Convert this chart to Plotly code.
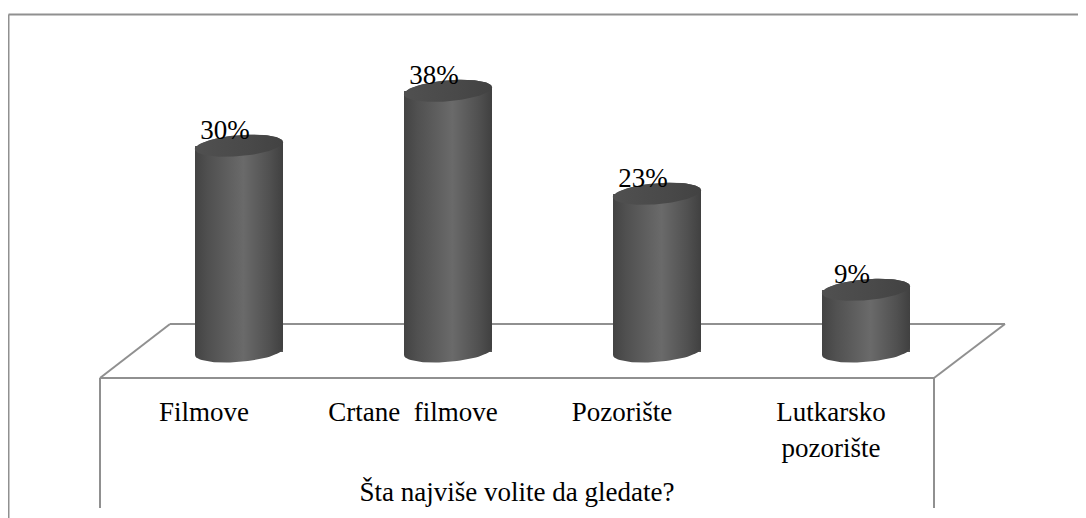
import numpy as np
import plotly.graph_objects as go

categories = ["Filmove", "Crtane  filmove", "Pozorište", "Lutkarsko<br>pozorište"]
values = [30, 38, 23, 9]
value_labels = ["30%", "38%", "23%", "9%"]
axis_title = "Šta najviše volite da gledate?"

# the page puts the figure 8 px in from the window's top left corner
PAGE_M = 8
W, H = 1086 - PAGE_M, 518 - PAGE_M
BAR_X0, BAR_DX = 239.0 - PAGE_M, 209.0   # px of first bar centre, px per category
BASE_Y, PX_PER_PCT = 351.5 - PAGE_M, 6.86   # px of 0 %, px per percent
FONT = "Liberation Serif"
FS = 27
LINE = "#909090"

x_range = [(0 - BAR_X0) / BAR_DX, (W - BAR_X0) / BAR_DX]
y_range = [(BASE_Y - H) / PX_PER_PCT, BASE_Y / PX_PER_PCT]

half_w = 44 / BAR_DX
tilt = 3.5 / PX_PER_PCT
minor = 10.5 / PX_PER_PCT


def ellipse(cx, cy, t):
    return cx + half_w * np.cos(t), cy + tilt * np.cos(t) + minor * np.sin(t)


body_scale = [[0, "#434343"], [0.15, "#505050"], [0.55, "#6a6a6a"], [0.85, "#505050"], [1, "#404040"]]
top_scale = [[0, "#505050"], [0.6, "#494949"], [1, "#424242"]]

fig = go.Figure()

# plain bars carrying the values (underneath the rounded shading)
fig.add_trace(go.Bar(x=list(range(4)), y=values, width=2 * half_w,
                     marker=dict(color="#555555", line_width=0), hoverinfo="skip", showlegend=False))

for i, v in enumerate(values):
    # body: lower half of the base ellipse, then upper half of the top ellipse
    xl, yl = ellipse(i, 0, np.linspace(np.pi, 2 * np.pi, 40))
    xu, yu = ellipse(i, v, np.linspace(0, np.pi, 40))
    fig.add_trace(go.Scatter(
        x=np.concatenate([xl, xu]), y=np.concatenate([yl, yu]),
        mode="lines", line=dict(width=0), fill="toself",
        fillgradient=dict(type="horizontal", colorscale=body_scale),
        hoverinfo="skip", showlegend=False))
    # top cap
    xc, yc = ellipse(i, v, np.linspace(0, 2 * np.pi, 90))
    fig.add_trace(go.Scatter(
        x=xc, y=yc,
        mode="lines", line=dict(width=0), fill="toself",
        fillgradient=dict(type="horizontal", colorscale=top_scale),
        hoverinfo="skip", showlegend=False))

# data labels, offset left of each bar as in the 3-D original
fig.add_trace(go.Scatter(
    x=[i - 14 / BAR_DX for i in range(4)], y=values,
    mode="text", text=value_labels, textposition="top center",
    textfont=dict(family=FONT, size=FS, color="#000000"),
    hoverinfo="skip", showlegend=False))

# secondary x axis carries the category labels along the floor's front edge
AX0, AX1 = 100 - PAGE_M, 934 - PAGE_M
LABEL_X0 = 204.0 - PAGE_M
x2_range = [(AX0 - LABEL_X0) / BAR_DX, (AX1 - LABEL_X0) / BAR_DX]
fig.add_trace(go.Scatter(x=[0, 1, 2, 3], y=values, xaxis="x2", mode="markers",
                         marker=dict(opacity=0), hoverinfo="skip", showlegend=False))

px = lambda p: (p - PAGE_M) / W
py = lambda p: 1 - (p - PAGE_M) / H
seg = lambda x0, y0, x1, y1, w=2: dict(type="line", xref="paper", yref="paper", layer="below",
                                       x0=px(x0), y0=py(y0), x1=px(x1), y1=py(y1),
                                       line=dict(color=LINE, width=w))
shapes = [
    seg(8.5, 14.5, 1086, 14.5), seg(8.5, 14.5, 8.5, 518),
    seg(100, 378, 170, 324), seg(170, 324, 1005, 324), seg(1005, 324, 934, 378),
    seg(100, 378, 100, 508), seg(934, 378, 934, 508),
]

fig.update_layout(
    width=W, height=H, margin=dict(l=0, r=0, t=0, b=0), autosize=False,
    paper_bgcolor="white", plot_bgcolor="rgba(0,0,0,0)", showlegend=False,
    bargap=0, barmode="overlay", shapes=shapes,
    font=dict(family=FONT, size=FS, color="#000000"),
    xaxis=dict(range=x_range, visible=False, domain=[0, 1], fixedrange=True),
    yaxis=dict(range=y_range, visible=False, domain=[0, 1], fixedrange=True),
    xaxis2=dict(range=x2_range, domain=[AX0 / W, AX1 / W], anchor="free",
                position=py(378), side="bottom",
                tickmode="array", tickvals=[0, 1, 2, 3], ticktext=categories,
                ticks="outside", ticklen=10, tickcolor="rgba(0,0,0,0)",
                tickfont=dict(family=FONT, size=FS, color="#000000"),
                showline=True, linecolor=LINE, linewidth=2, showgrid=False, zeroline=False,
                fixedrange=True,
                title=dict(text=axis_title, standoff=20, font=dict(family=FONT, size=FS, color="#000000"))),
)
fig.write_html("out.html")
